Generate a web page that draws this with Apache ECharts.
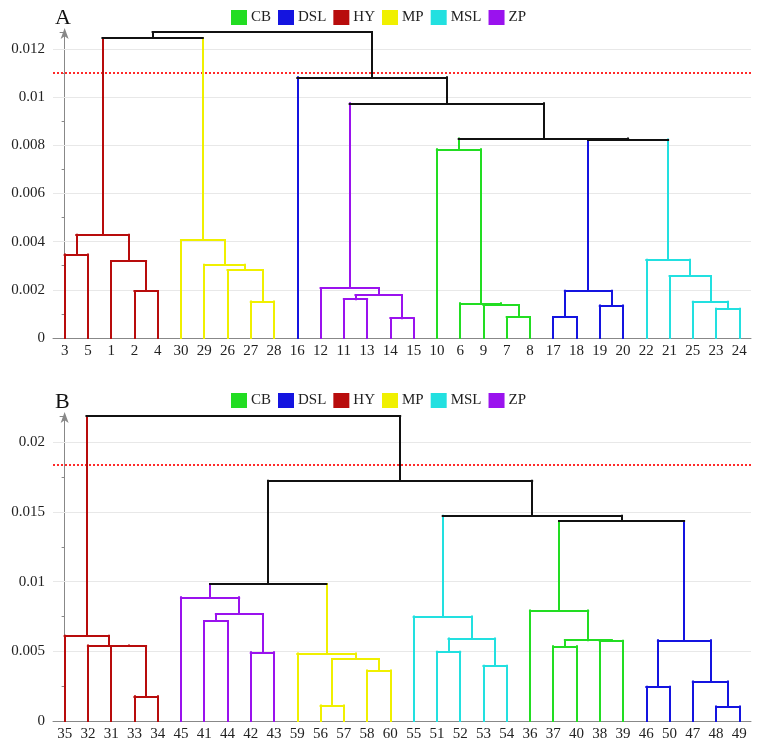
<!DOCTYPE html>
<html>
<head>
<meta charset="utf-8">
<script src="https://cdn.jsdelivr.net/npm/echarts@6/dist/echarts.min.js"></script>
<style>html,body{margin:0;padding:0;background:#fff}#c{width:760px;height:749px}</style>
</head>
<body>
<div id="c"></div>
<script>
// ---------- data ----------
const groups = ['CB', 'DSL', 'HY', 'MP', 'MSL', 'ZP'];
const groupColors = ['#22dd22', '#1414e0', '#b80c0c', '#f0f000', '#22e0e0', '#9a12ee'];

// Panel A
const leavesA = ['3','5','1','2','4','30','29','26','27','28','16','12','11','13','14','15','10','6','9','7','8','17','18','19','20','22','21','25','23','24'];
const leafGroupA = ['HY','HY','HY','HY','HY','MP','MP','MP','MP','MP','DSL','ZP','ZP','ZP','ZP','ZP','CB','CB','CB','CB','CB','DSL','DSL','DSL','DSL','MSL','MSL','MSL','MSL','MSL'];
// merge: [childA, childB, height, group]  (children: leaf label or 'm<index>')
const mergesA = [
  ['2','4',0.00195,'HY'],
  ['3','5',0.00347,'HY'],
  ['1','m0',0.00320,'HY'],
  ['m1','m2',0.00429,'HY'],
  ['27','28',0.00151,'MP'],
  ['26','m4',0.00282,'MP'],
  ['29','m5',0.00304,'MP'],
  ['30','m6',0.00407,'MP'],
  ['m3','m7',0.01245,null],
  ['11','13',0.00161,'ZP'],
  ['14','15',0.00082,'ZP'],
  ['m9','m10',0.00178,'ZP'],
  ['12','m11',0.00207,'ZP'],
  ['7','8',0.000875,'CB'],
  ['9','m13',0.00137,'CB'],
  ['6','m14',0.00144,'CB'],
  ['10','m15',0.00783,'CB'],
  ['17','18',0.000875,'DSL'],
  ['19','20',0.00135,'DSL'],
  ['m17','m18',0.00196,'DSL'],
  ['23','24',0.00121,'MSL'],
  ['25','m20',0.00150,'MSL'],
  ['21','m21',0.00257,'MSL'],
  ['22','m22',0.00325,'MSL'],
  ['m19','m23',0.00824,null],
  ['m16','m24',0.00828,null],
  ['m12','m25',0.00974,null],
  ['16','m26',0.01082,null],
  ['m8','m27',0.01270,null]
];
const ticksA = [0, 0.002, 0.004, 0.006, 0.008, 0.01, 0.012];
const maxA = 0.0127;
const cutA = 0.011;

// Panel B
const leavesB = ['35','32','31','33','34','45','41','44','42','43','59','56','57','58','60','55','51','52','53','54','36','37','40','38','39','46','50','47','48','49'];
const leafGroupB = ['HY','HY','HY','HY','HY','ZP','ZP','ZP','ZP','ZP','MP','MP','MP','MP','MP','MSL','MSL','MSL','MSL','MSL','CB','CB','CB','CB','CB','DSL','DSL','DSL','DSL','DSL'];
const mergesB = [
  ['33','34',0.00177,'HY'],
  ['31','m0',0.00538,'HY'],
  ['32','m1',0.00543,'HY'],
  ['35','m2',0.00612,'HY'],
  ['41','44',0.00718,'ZP'],
  ['42','43',0.00493,'ZP'],
  ['m4','m5',0.00768,'ZP'],
  ['45','m6',0.00888,'ZP'],
  ['56','57',0.00112,'MP'],
  ['58','60',0.00363,'MP'],
  ['m8','m9',0.00445,'MP'],
  ['59','m10',0.00485,'MP'],
  ['m7','m11',0.00983,null],
  ['51','52',0.00497,'MSL'],
  ['53','54',0.00397,'MSL'],
  ['m13','m14',0.00593,'MSL'],
  ['55','m15',0.00751,'MSL'],
  ['37','40',0.00536,'CB'],
  ['38','39',0.00576,'CB'],
  ['m17','m18',0.00580,'CB'],
  ['36','m19',0.00794,'CB'],
  ['46','50',0.00246,'DSL'],
  ['48','49',0.00105,'DSL'],
  ['47','m22',0.00284,'DSL'],
  ['m21','m23',0.00579,'DSL'],
  ['m20','m24',0.01436,null],
  ['m16','m25',0.01474,null],
  ['m12','m26',0.01725,null],
  ['m3','m27',0.02190,null]
];
const ticksB = [0, 0.005, 0.01, 0.015, 0.02];
const maxB = 0.0219;
const cutB = 0.0184;

// ---------- build ----------
const SERIF = '"Liberation Serif","DejaVu Serif",serif';
function colorOf(g) { return g ? groupColors[groups.indexOf(g)] : '#111'; }

function buildSegments(leaves, leafGroup, merges) {
  const nodes = {};
  leaves.forEach((l, i) => { nodes[l] = { x: i, h: 0, g: leafGroup[i] }; });
  const segs = [];
  merges.forEach((m, i) => {
    const a = nodes[m[0]], b = nodes[m[1]], H = m[2];
    segs.push({ coords: [[a.x, a.h], [a.x, H]], lineStyle: { color: colorOf(a.g) } });
    segs.push({ coords: [[b.x, b.h], [b.x, H]], lineStyle: { color: colorOf(b.g) } });
    segs.push({ coords: [[a.x, H], [b.x, H]], lineStyle: { color: colorOf(m[3]) } });
    nodes['m' + i] = { x: (a.x + b.x) / 2, h: H, g: m[3] };
  });
  return segs;
}

const panels = [
  { leaves: leavesA, lg: leafGroupA, merges: mergesA, ticks: ticksA, max: maxA, cut: cutA, top: 32, height: 306, label: 'A', titleTop: 7, legendTop: 10 },
  { leaves: leavesB, lg: leafGroupB, merges: mergesB, ticks: ticksB, max: maxB, cut: cutB, top: 416, height: 305, label: 'B', titleTop: 391, legendTop: 393 }
];

const option = {
  animation: false,
  backgroundColor: '#fff',
  title: [], legend: [], grid: [], xAxis: [], yAxis: [], series: []
};

groups.forEach((g, i) => {
  option.series.push({ name: g, type: 'line', data: [], xAxisIndex: 0, yAxisIndex: 0, itemStyle: { color: groupColors[i] }, lineStyle: { color: groupColors[i] } });
});

panels.forEach((p, k) => {
  option.title.push({ text: p.label, left: 55, top: p.titleTop, padding: 0,
    textStyle: { fontFamily: SERIF, fontSize: 22, fontWeight: 'normal', color: '#111' } });
  option.legend.push({ data: groups, left: 231, top: p.legendTop, padding: 0, itemWidth: 16, itemHeight: 15, itemGap: 7,
    icon: 'rect', selectedMode: false,
    textStyle: { fontFamily: SERIF, fontSize: 15, color: '#222', padding: [0, 0, 0, -1] } });
  option.grid.push({ left: 53, right: 9, top: p.top, height: p.height, containLabel: false });
  option.xAxis.push({ type: 'category', gridIndex: k, data: p.leaves, boundaryGap: true,
    axisLine: { lineStyle: { color: '#888', width: 1 } },
    axisTick: { alignWithLabel: true, length: 3, lineStyle: { color: '#888' } },
    axisLabel: { interval: 0, margin: 6, fontFamily: SERIF, fontSize: 15, color: '#222' },
    splitLine: { show: false } });
  option.xAxis.push({ type: 'value', gridIndex: k, min: -0.5, max: p.leaves.length - 0.5, show: false,
    splitLine: { show: false } });
  option.yAxis.push({ type: 'value', gridIndex: k, min: 0, max: p.max, interval: p.ticks[1] - p.ticks[0],
    axisLine: { show: true, lineStyle: { color: '#888', width: 1 }, symbol: ['none', 'arrow'], symbolSize: [6, 11], symbolOffset: [0, 4] },
    axisTick: { show: true, length: 5, lineStyle: { color: '#888' } },
    minorTick: { show: true, splitNumber: 2, length: 3, lineStyle: { color: '#888' } },
    axisLabel: { showMaxLabel: false, margin: 8, fontFamily: SERIF, fontSize: 15, color: '#222' },
    splitLine: { show: false } });
  // grid lines + cut line
  option.series.push({ type: 'line', data: [], xAxisIndex: 2 * k + 1, yAxisIndex: k, silent: true,
    markLine: { silent: true, symbol: 'none', animation: false, precision: 8, label: { show: false },
      data: p.ticks.filter(v => v > 0).map(v => ({ yAxis: v, lineStyle: { color: '#e8e8e8', width: 1, type: 'solid' } }))
        .concat([{ yAxis: p.cut, lineStyle: { color: '#ff2a2a', width: 2, type: [2, 2] } }]) } });
  option.series.push({ type: 'lines', coordinateSystem: 'cartesian2d', xAxisIndex: 2 * k + 1, yAxisIndex: k,
    silent: true, z: 5,
    lineStyle: { width: 2, cap: 'square', opacity: 1 },
    data: buildSegments(p.leaves, p.lg, p.merges) });
});

const chart = echarts.init(document.getElementById('c'), null, { renderer: 'canvas' });
chart.setOption(option);
</script>
</body>
</html>
